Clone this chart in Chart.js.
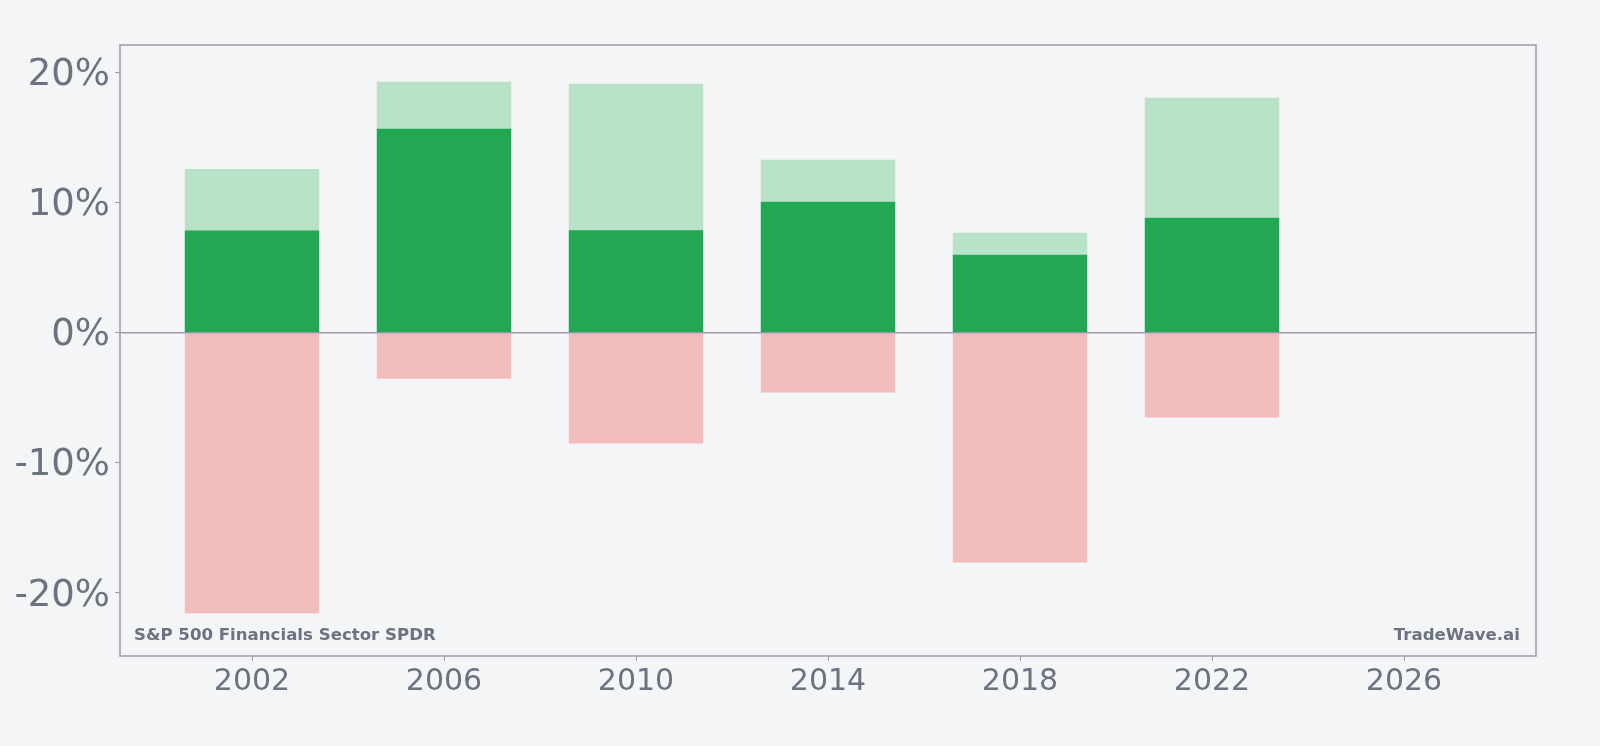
<!DOCTYPE html>
<html>
<head>
<meta charset="utf-8">
<script src="https://cdn.jsdelivr.net/npm/chart.js@4"></script>
<style>
    html, body { margin: 0; padding: 0; background: #f4f5f7; }
    #wrap { width: 1600px; height: 746px; }
</style>
</head>
<body>
<div id="wrap"><canvas id="returnsChart"></canvas></div>
<script>
// =============================================================================
// 데이터
// =============================================================================
const years = [2002, 2006, 2010, 2014, 2018, 2022];
const avgReturn = [7.87, 15.69, 7.88, 10.08, 6.0, 8.85];
const maxReturn = [12.6, 19.31, 19.15, 13.31, 7.69, 18.08];
const minReturn = [-21.56, -3.54, -8.51, -4.59, -17.67, -6.51];

const xTicks = [2002, 2006, 2010, 2014, 2018, 2022, 2026];
const yTicks = [-20, -10, 0, 10, 20];

const fundName = "S&P 500 Financials Sector SPDR";
const brandName = "TradeWave.ai";

const FRAME = "#9a9ca8";
const LABEL = "#6b7280";

function points(values) {
    return years.map((yr, i) => ({ x: yr, y: values[i] }));
}

// =============================================================================
// 플러그인: 프레임, 0선, 워터마크
// =============================================================================
const framePlugin = {
    id: "frame",
    afterDatasetsDraw(chart) {
        const { ctx, chartArea: a, scales } = chart;
        const y0 = scales.y.getPixelForValue(0);

        ctx.save();
        ctx.strokeStyle = FRAME;
        ctx.lineWidth = 1.5;
        ctx.beginPath();
        ctx.moveTo(a.left, y0);
        ctx.lineTo(a.right, y0);
        ctx.stroke();

        ctx.strokeRect(a.left, a.top, a.right - a.left, a.bottom - a.top);

        ctx.fillStyle = LABEL;
        ctx.font = "bold 16.6px 'DejaVu Sans'";
        ctx.textBaseline = "alphabetic";
        ctx.textAlign = "left";
        ctx.fillText(fundName, a.left + 14, a.bottom - 16);
        ctx.textAlign = "right";
        ctx.fillText(brandName, a.right - 16, a.bottom - 16);
        ctx.restore();
    },
};

// =============================================================================
// 차트
// =============================================================================
const barDefaults = {
    grouped: false,
    categoryPercentage: 1,
    barPercentage: 0.7,
    borderWidth: 0,
};

new Chart(document.getElementById("returnsChart"), {
    type: "bar",
    data: {
        datasets: [
            { ...barDefaults, label: "Average", data: points(avgReturn), backgroundColor: "#22a853", order: 0 },
            { ...barDefaults, label: "Best", data: points(maxReturn), backgroundColor: "#b8e3c9", order: 1 },
            { ...barDefaults, label: "Worst", data: points(minReturn), backgroundColor: "#f3bcbc", order: 2 },
        ],
    },
    options: {
        responsive: true,
        maintainAspectRatio: false,
        animation: false,
        layout: { padding: { top: 45, right: 64, bottom: 0, left: 0 } },
        plugins: {
            legend: { display: false },
            tooltip: { enabled: false },
        },
        scales: {
            x: {
                type: "linear",
                offset: false,
                min: 1999.25,
                max: 2028.75,
                afterBuildTicks: (axis) => { axis.ticks = xTicks.map((v) => ({ value: v })); },
                afterFit: (axis) => { axis.height = 90; },
                grid: { offset: false, drawOnChartArea: false, drawTicks: true, tickLength: 5, tickColor: FRAME },
                border: { display: false },
                ticks: {
                    color: LABEL,
                    padding: 3,
                    font: { family: "'DejaVu Sans'", size: 30 },
                    maxRotation: 0,
                    callback: (v) => String(v),
                },
            },
            y: {
                min: -24.85,
                max: 22.13,
                afterBuildTicks: (axis) => { axis.ticks = yTicks.map((v) => ({ value: v })); },
                afterFit: (axis) => { axis.width = 120; },
                grid: { drawOnChartArea: false, drawTicks: true, tickLength: 5, tickColor: FRAME },
                border: { display: false },
                ticks: {
                    color: LABEL,
                    padding: 5,
                    labelOffset: 3,
                    font: { family: "'DejaVu Sans'", size: 37 },
                    callback: (v) => v + "%",
                },
            },
        },
    },
    plugins: [framePlugin],
});
</script>
</body>
</html>
